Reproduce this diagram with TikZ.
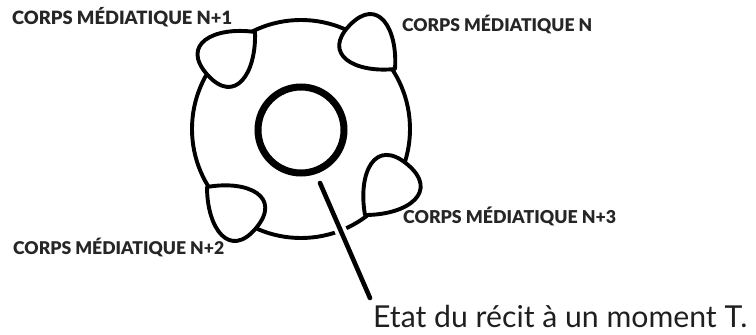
\documentclass[tikz,border=0pt]{standalone}
\usepackage{fontspec}
\usepackage{graphicx}
\setmainfont{Lato}
\newfontfamily\heavyfont{Lato Black}
\newcommand\teardropat[4]{%
  \begin{scope}[shift={(#1,#2)}, rotate=#3]
    \filldraw[drop] (0,0) .. controls (0.42*#4,0.50*#4) and (#4,0.64*#4) .. (#4,0)
      .. controls (#4,-0.64*#4) and (0.42*#4,-0.50*#4) .. cycle;
  \end{scope}}
\begin{document}
\begin{tikzpicture}[x=1pt,y=1pt,
  ring/.style={circle, draw, line width=3.9pt, inner sep=0pt},
  drop/.style={line width=3.9pt, fill=white, line join=round},
  lbl/.style={font=\fontsize{17.8}{20}\heavyfont, text=black!85, inner sep=0pt, anchor=base west},
  pointer/.style={line width=4.6pt},
]
\useasboundingbox (0,0) rectangle (756,335);
\node[ring, minimum size=218pt] (outer) at (301,206) {};
\node[ring, line width=7pt, minimum size=86pt] (core) at (301,205) {};
% pointer to label
\node[font=\fontsize{25}{30}\selectfont, text=black!88, inner sep=0pt, anchor=base west] (state) at (373,7) {\resizebox{374pt}{!}{Etat du récit à un moment T.}};
\coordinate (pA) at (320,152);
\coordinate (pB) at (370,37);
\draw[pointer, line cap=round, preaction={draw=white, line width=12pt, line cap=butt, shorten <=40pt, shorten >=58pt}] (pA) -- (pB);
% teardrops
\teardropat{255}{303}{222}{64}
\teardropat{395}{266}{136}{63}
\teardropat{365}{120}{50}{66}
\teardropat{207}{148}{-40}{64}
% labels
\node[lbl] (n1) at (12,310) {\resizebox{220pt}{!}{CORPS MÉDIATIQUE N+1}};
\node[lbl] (n0) at (402,303) {\resizebox{190pt}{!}{CORPS MÉDIATIQUE N}};
\node[lbl] (n2) at (13,80) {\resizebox{211pt}{!}{CORPS MÉDIATIQUE N+2}};
\node[lbl] (n3) at (403,111) {\resizebox{213pt}{!}{CORPS MÉDIATIQUE N+3}};
\end{tikzpicture}
\end{document}
